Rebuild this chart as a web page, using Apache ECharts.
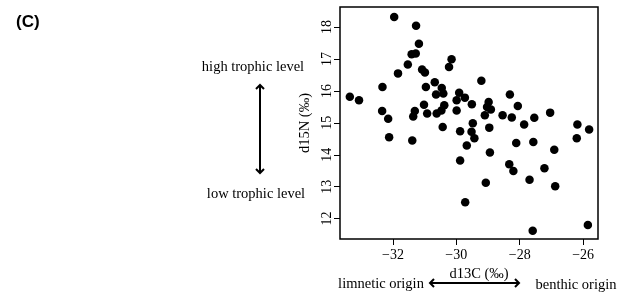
<!DOCTYPE html>
<html>
<head>
<meta charset="utf-8">
<script src="https://cdn.jsdelivr.net/npm/echarts@6/dist/echarts.min.js"></script>
<style>
  html, body { margin: 0; padding: 0; background: #fff; }
  #chart { width: 618px; height: 293px; }
</style>
</head>
<body>
<div id="chart"></div>
<script>
// d13C (x) and d15N (y) values
var d13C = [
  -31.96, -31.27, -31.18, -31.41, -31.28, -31.53, -31.84, -31.08, -30.99, -30.15,
  -30.23, -30.68, -30.46, -30.96, -30.64, -30.41, -32.33, -33.36, -33.07, -29.91,
  -29.99, -31.02, -30.38, -32.34, -31.31, -30.92, -30.62, -30.47, -31.36, -32.15,
  -29.99, -30.43, -32.12, -31.39, -29.88, -29.88, -29.21, -29.73, -29.51, -28.31,
  -28.98, -29.03, -28.91, -29.10, -28.06, -28.54, -28.25, -27.04, -27.54, -27.86,
  -26.18, -25.81, -29.48, -29.52, -28.96, -29.43, -29.67, -28.94, -28.11, -27.57,
  -26.91, -26.20, -28.33, -28.20, -27.22, -27.69, -26.88, -29.07, -29.72, -27.59,
  -25.85
];
var d15N = [
  18.32, 18.04, 17.48, 17.15, 17.17, 16.83, 16.55, 16.67, 16.58, 16.99,
  16.75, 16.27, 16.09, 16.12, 15.89, 15.92, 16.12, 15.82, 15.71, 15.94,
  15.71, 15.57, 15.55, 15.37, 15.37, 15.29, 15.29, 15.39, 15.20, 15.13,
  15.39, 14.87, 14.55, 14.45, 14.74, 13.82, 16.32, 15.79, 15.58, 15.89,
  15.65, 15.50, 15.42, 15.24, 15.53, 15.24, 15.17, 15.32, 15.16, 14.95,
  14.95, 14.79, 14.99, 14.72, 14.85, 14.52, 14.29, 14.07, 14.37, 14.40,
  14.16, 14.52, 13.70, 13.49, 13.58, 13.22, 13.01, 13.12, 12.51, 11.62,
  11.80
];
var xTicks = [-32, -30, -28, -26];
var yTicks = [12, 13, 14, 15, 16, 17, 18];

var points = d13C.map(function (x, i) { return [x, d15N[i]]; });

var serif = 'Liberation Serif';
var chart = echarts.init(document.getElementById('chart'));

// arrow helper (annotation only)
function chevron(x, y, dir) {
  var s = 4;
  var pts;
  if (dir === 'up') pts = [[x - s, y + s], [x, y], [x + s, y + s]];
  if (dir === 'down') pts = [[x - s, y - s], [x, y], [x + s, y - s]];
  if (dir === 'left') pts = [[x + s, y - s], [x, y], [x + s, y + s]];
  if (dir === 'right') pts = [[x - s, y - s], [x, y], [x - s, y + s]];
  return { type: 'polyline', shape: { points: pts }, style: { stroke: '#000', lineWidth: 2, fill: null } };
}

var option = {
  animation: false,
  grid: {
    left: 340, right: 20, top: 7, bottom: 54,
    show: true, borderColor: '#000', borderWidth: 1.5
  },
  xAxis: {
    type: 'value',
    min: -33.67, max: -25.53,
    name: 'd13C (‰)',
    nameLocation: 'middle',
    nameGap: 27,
    nameTextStyle: { fontFamily: serif, fontSize: 14.5, color: '#000', padding: [0, 0, 0, 20] },
    splitLine: { show: false },
    axisLine: { show: false },
    axisTick: { show: true, length: 6, customValues: xTicks, lineStyle: { color: '#000', width: 1 } },
    axisLabel: {
      customValues: xTicks, margin: 9, fontFamily: serif, fontSize: 14, color: '#000',
      formatter: function (v) { return v < 0 ? '\u2212' + Math.abs(v) : String(v); }
    }
  },
  yAxis: {
    type: 'value',
    min: 11.36, max: 18.63,
    name: 'd15N (‰)',
    nameLocation: 'middle',
    nameGap: 27,
    nameTextStyle: { fontFamily: serif, fontSize: 14.5, color: '#000' },
    splitLine: { show: false },
    axisLine: { show: false },
    axisTick: { show: true, length: 6, customValues: yTicks, lineStyle: { color: '#000', width: 1 } },
    axisLabel: { customValues: yTicks, rotate: 90, margin: 6, fontFamily: serif, fontSize: 14, color: '#000' }
  },
  series: [{
    type: 'scatter',
    data: points,
    symbol: 'circle',
    symbolSize: 8.5,
    itemStyle: { color: '#000', opacity: 1 }
  }],
  graphic: [
    { type: 'text', left: 16, top: 14, style: { text: '(C)', font: 'bold 17px "Liberation Sans"', fill: '#000' } },
    { type: 'text', x: 253, y: 67, style: { text: 'high trophic level', font: '14.5px "Liberation Serif"', fill: '#000', align: 'center', verticalAlign: 'middle' } },
    { type: 'text', x: 256, y: 194, style: { text: 'low trophic level', font: '14.5px "Liberation Serif"', fill: '#000', align: 'center', verticalAlign: 'middle' } },
    { type: 'line', shape: { x1: 260, y1: 85, x2: 260, y2: 173 }, style: { stroke: '#000', lineWidth: 2 } },
    chevron(260, 85, 'up'),
    chevron(260, 173, 'down'),
    { type: 'text', x: 381, y: 284, style: { text: 'limnetic origin', font: '14.5px "Liberation Serif"', fill: '#000', align: 'center', verticalAlign: 'middle' } },
    { type: 'text', x: 576, y: 285, style: { text: 'benthic origin', font: '14.5px "Liberation Serif"', fill: '#000', align: 'center', verticalAlign: 'middle' } },
    { type: 'line', shape: { x1: 430, y1: 283, x2: 519, y2: 283 }, style: { stroke: '#000', lineWidth: 2 } },
    chevron(430, 283, 'left'),
    chevron(519, 283, 'right')
  ]
};
chart.setOption(option);
</script>
</body>
</html>
